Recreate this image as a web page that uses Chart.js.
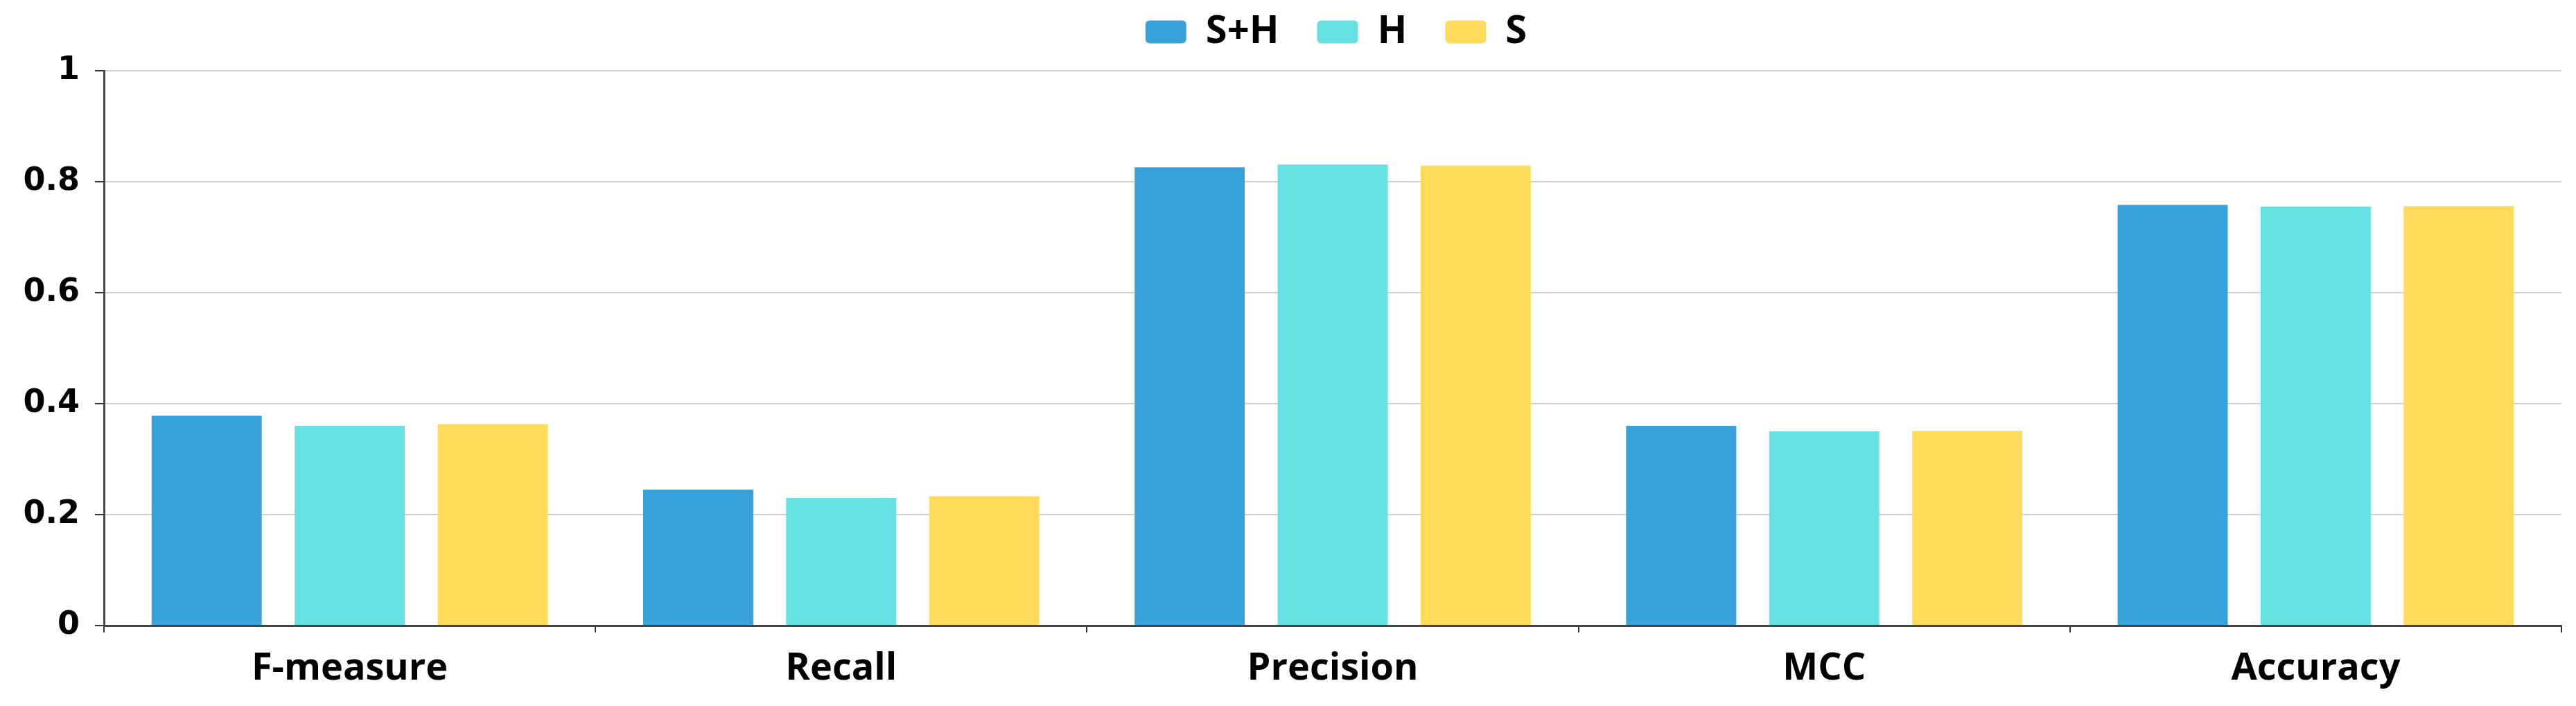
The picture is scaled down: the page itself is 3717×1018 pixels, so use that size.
<!DOCTYPE html>
<html>
<head>
<meta charset="utf-8">
<script src="https://cdn.jsdelivr.net/npm/chart.js@4/dist/chart.umd.min.js"></script>
<style>
  html, body { margin: 0; padding: 0; background: #fff; }
  #wrap { width: 3717px; height: 1018px; position: relative; }
</style>
</head>
<body>
<div id="wrap"><canvas id="chart-area"></canvas></div>
<script>
var categories = ["F-measure", "Recall", "Precision", "MCC", "Accuracy"];
var seriesNames = ["S+H", "H", "S"];
var valuesSH = [0.378, 0.245, 0.826, 0.360, 0.758];
var valuesH = [0.360, 0.230, 0.831, 0.350, 0.755];
var valuesS = [0.363, 0.233, 0.829, 0.351, 0.756];
var seriesColors = ["#38A2DA", "#67E0E3", "#FFDB5C"];

// nudges the legend into place after chart.js has done its layout
var legendNudge = {
    id: 'legendNudge',
    afterLayout: function (chart) {
        var lg = chart.legend;
        lg.top -= 37;
        lg.bottom -= 37;
        lg.left += 80;
        lg.right += 80;
    }
};

var config = {
    type: 'bar',
    data: {
        labels: categories,
        datasets: [{
            label: seriesNames[0],
            data: valuesSH,
            backgroundColor: seriesColors[0]
        }, {
            label: seriesNames[1],
            data: valuesH,
            backgroundColor: seriesColors[1]
        }, {
            label: seriesNames[2],
            data: valuesS,
            backgroundColor: seriesColors[2]
        }]
    },
    options: {
        responsive: true,
        maintainAspectRatio: false,
        animation: false,
        devicePixelRatio: 1,
        categoryPercentage: 0.873,
        barPercentage: 0.77,
        layout: {
            padding: { left: 0, right: 21, top: 0, bottom: 0 }
        },
        plugins: {
            tooltip: { enabled: false },
            legend: {
                position: 'top',
                maxHeight: 102,
                labels: {
                    boxWidth: 59,
                    boxHeight: 33,
                    padding: 55,
                    useBorderRadius: true,
                    borderRadius: 6,
                    color: '#000',
                    font: { family: 'Open Sans', size: 56, weight: 'bold' }
                }
            }
        },
        scales: {
            x: {
                afterFit: function (scale) { scale.height = 116; },
                grid: {
                    display: true,
                    drawOnChartArea: false,
                    drawTicks: true,
                    tickLength: 10,
                    tickColor: '#333',
                    lineWidth: 2
                },
                border: { color: '#444', width: 3 },
                ticks: {
                    color: '#000',
                    padding: 20,
                    font: { family: 'Open Sans', size: 54, weight: 'bold' }
                }
            },
            y: {
                min: 0,
                max: 1,
                afterFit: function (scale) { scale.width = 150; },
                grid: {
                    color: '#cfcfcf',
                    lineWidth: 2,
                    tickLength: 13,
                    tickColor: '#333'
                },
                border: { color: '#444', width: 3 },
                ticks: {
                    stepSize: 0.2,
                    color: '#000',
                    padding: 22,
                    font: { family: 'DejaVu Sans', size: 46, weight: 'bold' },
                    callback: function (value) {
                        return String(Number(value.toFixed(1)));
                    }
                }
            }
        }
    },
    plugins: [legendNudge]
};

var ctx = document.getElementById("chart-area").getContext("2d");
window.myBar = new Chart(ctx, config);
</script>
</body>
</html>
